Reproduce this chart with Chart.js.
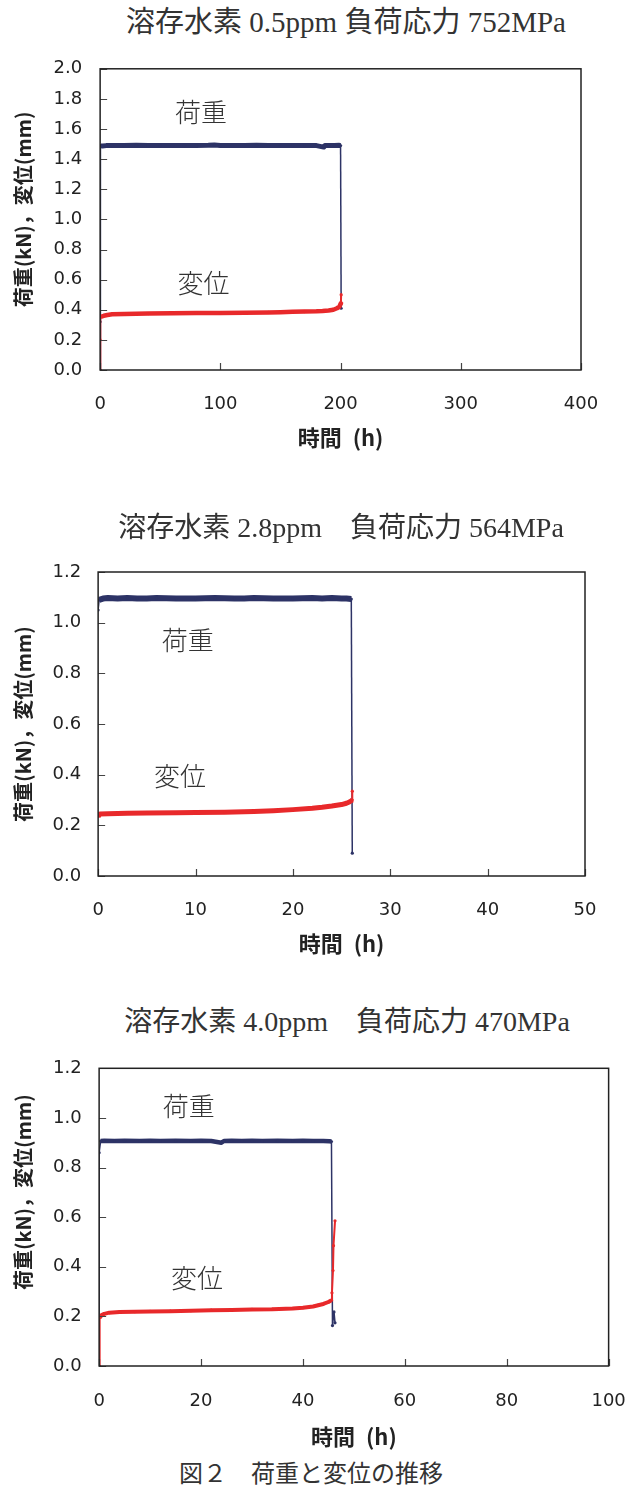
<!DOCTYPE html>
<html>
<head>
<meta charset="utf-8">
<script src="https://cdn.jsdelivr.net/npm/chart.js@4.4.1/dist/chart.umd.min.js"></script>
<style>
  html, body { margin: 0; padding: 0; background: #fff; }
  body { width: 630px; height: 1495px; position: relative; overflow: hidden; }
  canvas { position: absolute; left: 0; }
  .ttl { position: absolute; white-space: nowrap; transform: translateX(-50%);
         font-family: "Liberation Serif", "Noto Sans CJK JP", serif; color: #333; line-height: 1; }
</style>
</head>
<body>
<canvas id="c1" style="top:40px"></canvas>
<canvas id="c2" style="top:540px"></canvas>
<canvas id="c3" style="top:1040px"></canvas>
<div class="ttl" id="t1" style="left:346px; top:8px; font-size:29px;"></div>
<div class="ttl" id="t2" style="left:341px; top:514px; font-size:28px;"></div>
<div class="ttl" id="t3" style="left:347px; top:1008px; font-size:28px;"></div>
<div class="ttl" id="cap" style="left:311px; top:1462px; font-size:24px;"></div>
<script>
// ---------- texts ----------
const titles = ['溶存水素 0.5ppm 負荷応力 752MPa', '溶存水素 2.8ppm　負荷応力 564MPa', '溶存水素 4.0ppm　負荷応力 470MPa'];
const caption = '図２　荷重と変位の推移';
const yTitle = '荷重(kN)，変位(mm)';
const xTitle = '時間\u2002(h)';
const loadLabel = '荷重';
const dispLabel = '変位';

// ---------- chart 1 : 0.5 ppm, 752 MPa ----------
const t1Load = [0, 0, 0.5, 2, 5, 10, 20, 30, 40, 50, 60, 70, 80, 90, 95, 100, 110, 120, 130, 140, 150, 160, 170, 180, 186, 187, 190, 195, 199, 200, 200.5];
const load1  = [0, 0.32, 1.49, 1.487, 1.49, 1.49, 1.49, 1.492, 1.49, 1.49, 1.49, 1.49, 1.49, 1.492, 1.494, 1.49, 1.49, 1.49, 1.492, 1.49, 1.49, 1.49, 1.49, 1.49, 1.48, 1.49, 1.49, 1.49, 1.492, 1.49, 0.41];
const t1Disp = [0, 0, 0.3, 1, 3, 6, 10, 20, 40, 60, 80, 100, 120, 140, 150, 160, 170, 180, 185, 190, 194, 197, 199, 200, 200.3, 200.5];
const disp1  = [0, 0.20, 0.35, 0.355, 0.36, 0.365, 0.37, 0.372, 0.375, 0.377, 0.378, 0.379, 0.38, 0.382, 0.384, 0.386, 0.388, 0.39, 0.392, 0.395, 0.40, 0.41, 0.42, 0.44, 0.45, 0.50];
const xTicks1 = [0, 100, 200, 300, 400];
const yTicks1 = [0, 0.2, 0.4, 0.6, 0.8, 1.0, 1.2, 1.4, 1.6, 1.8, 2.0];

// ---------- chart 2 : 2.8 ppm, 564 MPa ----------
const t2Load = [0, 0.1, 0.5, 1, 2, 3, 4, 5, 6, 8, 10, 12, 14, 15, 16, 18, 20, 22, 23, 24, 25, 25.5, 26, 26.1];
const load2  = [1.05, 1.09, 1.095, 1.097, 1.095, 1.097, 1.095, 1.095, 1.097, 1.095, 1.095, 1.097, 1.095, 1.095, 1.097, 1.095, 1.095, 1.097, 1.095, 1.097, 1.095, 1.095, 1.093, 0.09];
const t2Disp = [0, 0.2, 1, 3, 5, 8, 10, 13, 16, 18, 20, 22, 23, 24, 25, 25.5, 25.8, 26, 26.1, 26.1];
const disp2  = [0.235, 0.245, 0.246, 0.248, 0.249, 0.25, 0.251, 0.252, 0.255, 0.258, 0.262, 0.267, 0.271, 0.276, 0.282, 0.287, 0.292, 0.297, 0.30, 0.335];
const xTicks2 = [0, 10, 20, 30, 40, 50];
const yTicks2 = [0, 0.2, 0.4, 0.6, 0.8, 1.0, 1.2];

// ---------- chart 3 : 4.0 ppm, 470 MPa ----------
const t3Load = [0, 0, 0.3, 1, 3, 5, 8, 10, 12, 15, 18, 20, 22, 24, 24.5, 26, 28, 30, 32, 35, 38, 40, 42, 44, 45.2, 45.6, 45.8, 46.1, 46.3];
const load3  = [0, 0.86, 0.907, 0.908, 0.907, 0.908, 0.907, 0.908, 0.907, 0.908, 0.907, 0.908, 0.907, 0.9, 0.907, 0.908, 0.907, 0.908, 0.907, 0.908, 0.907, 0.908, 0.907, 0.907, 0.906, 0.905, 0.163, 0.218, 0.174];
const t3Disp = [0, 0.1, 0.5, 1, 2, 4, 7, 10, 14, 18, 22, 26, 30, 34, 38, 40, 42, 43, 44, 45, 45.6, 45.7, 45.9, 46.0, 46.3];
const disp3  = [0, 0.195, 0.205, 0.21, 0.215, 0.218, 0.219, 0.22, 0.221, 0.223, 0.225, 0.226, 0.228, 0.229, 0.232, 0.235, 0.24, 0.245, 0.25, 0.258, 0.265, 0.295, 0.385, 0.485, 0.585];
const xTicks3 = [0, 20, 40, 60, 80, 100];
const yTicks3 = [0, 0.2, 0.4, 0.6, 0.8, 1.0, 1.2];

// ---------- styling ----------
const NAVY = '#2d3366';
const RED = '#e8292b';
const AXIS = '#222';
const tickFont = { family: 'DejaVu Sans', size: 18 };
const titleFont = { family: '"Noto Sans CJK JP"', size: 20, weight: 'bold' };
const xTitleFont = { family: '"Noto Sans CJK JP"', size: 22, weight: 'bold' };

document.getElementById('t1').textContent = titles[0];
document.getElementById('t2').textContent = titles[1];
document.getElementById('t3').textContent = titles[2];
document.getElementById('cap').textContent = caption;

function pts(xs, ys) { return xs.map((x, i) => ({ x: x, y: ys[i] })); }

function seriesDS(label, data, color, thick, thin) {
  return {
    label: label,
    data: data,
    borderColor: color,
    backgroundColor: color,
    pointRadius: 1.6,
    pointBorderWidth: 0,
    pointBackgroundColor: color,
    borderWidth: thick,
    tension: 0,
    borderJoinStyle: 'round',
    segment: {
      borderWidth: c => (Math.abs(c.p1.y - c.p0.y) > 4 * Math.abs(c.p1.x - c.p0.x) + 3) ? thin : thick
    }
  };
}

const framePlugin = {
  id: 'frame',
  afterDatasetsDraw(chart, args, opts) {
    const { ctx, chartArea: a, scales } = chart;
    ctx.save();
    ctx.strokeStyle = '#444';
    ctx.lineWidth = 1.2;
    ctx.beginPath();
    scales.y.ticks.forEach(t => {
      const py = Math.round(scales.y.getPixelForValue(t.value)) + 0.5;
      ctx.moveTo(a.left, py); ctx.lineTo(a.left + 7, py);
    });
    scales.x.ticks.forEach(t => {
      const px = Math.round(scales.x.getPixelForValue(t.value)) + 0.5;
      ctx.moveTo(px, a.bottom); ctx.lineTo(px, a.bottom - 7);
    });
    ctx.stroke();
    ctx.strokeStyle = AXIS;
    ctx.lineWidth = 1.5;
    ctx.strokeRect(a.left, a.top, a.right - a.left, a.bottom - a.top);
    ctx.fillStyle = '#333';
    ctx.font = '300 26px "Noto Sans CJK JP"';
    ctx.textAlign = 'center';
    ctx.textBaseline = 'middle';
    (opts.notes || []).forEach(n => {
      ctx.fillText(n.text, scales.x.getPixelForValue(n.x), scales.y.getPixelForValue(n.y));
    });
    ctx.restore();
  }
};

const hiddenGrid = { display: true, drawOnChartArea: false, drawTicks: true, tickLength: 20, tickColor: 'rgba(0,0,0,0)', color: 'rgba(0,0,0,0)' };

function build(id, cfg) {
  const el = document.getElementById(id);
  el.width = 630; el.height = cfg.h;
  el.style.width = '630px'; el.style.height = cfg.h + 'px';
  return new Chart(el, {
    type: 'line',
    data: {
      datasets: [
        seriesDS(dispLabel, pts(cfg.tDisp, cfg.disp), RED, cfg.redW, 2),
        seriesDS(loadLabel, pts(cfg.tLoad, cfg.load), NAVY, cfg.navyW, 1.5)
      ]
    },
    options: {
      responsive: false,
      animation: false,
      layout: { padding: cfg.pad },
      plugins: {
        legend: { display: false },
        tooltip: { enabled: false },
        frame: { notes: cfg.notes }
      },
      scales: {
        x: {
          type: 'linear',
          min: cfg.xTicks[0], max: cfg.xTicks[cfg.xTicks.length - 1],
          afterBuildTicks: s => { s.ticks = cfg.xTicks.map(v => ({ value: v })); },
          grid: hiddenGrid,
          border: { display: false },
          ticks: { font: tickFont, color: AXIS, padding: cfg.xtp - 20, maxRotation: 0, callback: v => String(v) },
          title: { display: true, text: xTitle, font: xTitleFont, color: AXIS, padding: { top: cfg.xtt + 20, bottom: 0 } }
        },
        y: {
          type: 'linear',
          min: cfg.yTicks[0], max: cfg.yTicks[cfg.yTicks.length - 1],
          afterBuildTicks: s => { s.ticks = cfg.yTicks.map(v => ({ value: v })); },
          grid: { display: false, drawTicks: false },
          border: { display: false },
          ticks: { font: tickFont, color: AXIS, padding: cfg.ytp, callback: v => Number(v).toFixed(1) },
          title: { display: true, text: cfg.yLead + yTitle, font: titleFont, color: AXIS, padding: { top: 11.5, bottom: 0 } }
        }
      }
    },
    plugins: [framePlugin]
  });
}

build('c1', {
  h: 420, pad: { top: 24, right: 49, bottom: 8.8, left: 0 },
  tLoad: t1Load, load: load1, tDisp: t1Disp, disp: disp1,
  xTicks: xTicks1, yTicks: yTicks1, navyW: 5, redW: 4.5,
  xtp: 23.2, xtt: -13.2, ytp: 18, yLead: '\u3000',
  notes: [{ text: loadLabel, x: 84, y: 1.71 }, { text: dispLabel, x: 86, y: 0.58 }]
});
build('c2', {
  h: 420, pad: { top: 32, right: 45, bottom: 2.8, left: 0 },
  tLoad: t2Load, load: load2, tDisp: t2Disp, disp: disp2,
  xTicks: xTicks2, yTicks: yTicks2, navyW: 6, redW: 5,
  xtp: 23.2, xtt: -13.2, ytp: 17, yLead: '',
  notes: [{ text: loadLabel, x: 9.2, y: 0.933 }, { text: dispLabel, x: 8.4, y: 0.395 }]
});
build('c3', {
  h: 420, pad: { top: 17, right: 21, bottom: 9.8, left: 0 },
  tLoad: t3Load, load: load3, tDisp: t3Disp, disp: disp3,
  xTicks: xTicks3, yTicks: yTicks3, navyW: 4.5, redW: 4,
  xtp: 24.2, xtt: -12.2, ytp: 17.5, yLead: '\u3000\u3000\u2002',
  notes: [{ text: loadLabel, x: 17.6, y: 1.047 }, { text: dispLabel, x: 19.2, y: 0.353 }]
});
</script>
</body>
</html>
